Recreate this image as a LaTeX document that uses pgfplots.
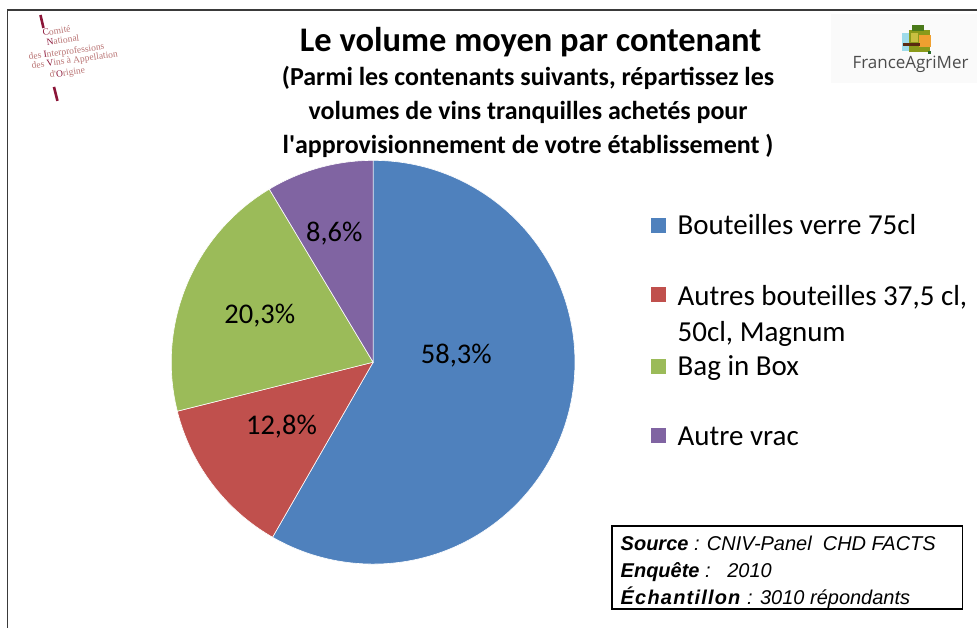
\documentclass[border=0pt]{standalone}
\usepackage{pgfplots}
\pgfplotsset{compat=1.18}
\usepackage{pgfplotstable}
\usepackage{fontspec}
\setmainfont{Carlito}
\newfontfamily\arialfont{Liberation Sans}
\newfontfamily\cnivfont{Liberation Serif}
\newfontfamily\fagfont{Open Sans}
\definecolor{pieblue}{HTML}{4F81BD}
\definecolor{piered}{HTML}{C0504D}
\definecolor{piegreen}{HTML}{9BBB59}
\definecolor{piepurple}{HTML}{8064A2}
\definecolor{framegray}{HTML}{3A3A3A}
\definecolor{cnivdark}{HTML}{8B1538}
\definecolor{cnivrose}{HTML}{B87272}
\definecolor{fagA}{HTML}{9EDBE9}
\definecolor{fagB}{HTML}{8A9A1A}
\definecolor{fagC}{HTML}{4A7A1A}
\definecolor{fagD}{HTML}{F0A030}
\definecolor{fagE}{HTML}{C8C040}
\definecolor{fagF}{HTML}{5A2A10}
\definecolor{fagG}{HTML}{2A6A2A}
\pgfkeys{/pgf/number format/.cd, use comma, fixed, fixed zerofill, precision=1, assume math mode=true}
\newcommand\labelfont{\fontsize{28.5}{34}\selectfont}
\newcommand\legfont{\fontsize{29}{34}\selectfont}

% value, colour, label position (axis units = pixels, y upward)
\pgfplotstableread{
value color lx ly
58.3 pieblue 456.7 264
12.8 piered 281.7 193
20.3 piegreen 260 304
8.6 piepurple 334.5 386.3
}\piedata

\begin{document}
\begin{tikzpicture}
\begin{axis}[
  scale only axis, width=978pt, height=628pt,
  xmin=0, xmax=978, ymin=0, ymax=628,
  hide axis, clip=false]
\path[draw=none] (axis cs:0,0) rectangle (axis cs:978,628);
% frame
\draw[line width=1.5pt, framegray] (axis cs:7.5,0) -- (axis cs:7.5,618) -- (axis cs:978,618);

% pie
\xdef\cumul{0}
\pgfplotsinvokeforeach{0,1,2,3}{%
  \pgfplotstablegetelem{#1}{value}\of\piedata \let\sliceval\pgfplotsretval
  \pgfplotstablegetelem{#1}{color}\of\piedata \let\slicecolor\pgfplotsretval
  \pgfplotstablegetelem{#1}{lx}\of\piedata \let\lblx\pgfplotsretval
  \pgfplotstablegetelem{#1}{ly}\of\piedata \let\lbly\pgfplotsretval
  \pgfmathsetmacro\startang{90-3.6*\cumul}
  \pgfmathsetmacro\endang{90-3.6*(\cumul+\sliceval)}
  \edef\temp{\noexpand\fill[fill=\slicecolor, draw=white, line width=0.6pt]
    (axis cs:373.4,265.5) -- ++(\startang:202pt)
    arc[start angle=\startang, end angle=\endang, radius=202pt] -- cycle;}
  \temp
  \edef\temp{\noexpand\node[anchor=base, font=\noexpand\labelfont, inner sep=0pt]
    at (axis cs:\lblx,\lbly) {\noexpand\pgfmathprintnumber{\sliceval}\noexpand\%};}
  \temp
  \pgfmathsetmacro\newcumul{\cumul+\sliceval}
  \xdef\cumul{\newcumul}
}

% titles
\node[anchor=base, inner sep=0pt, font=\fontsize{34.5}{40}\selectfont\bfseries] at (axis cs:531,576) {Le volume moyen par contenant};
\node[anchor=base, inner sep=0pt, font=\fontsize{26}{30}\selectfont\bfseries] at (axis cs:528.5,542) {(Parmi les contenants suivants, répartissez les};
\node[anchor=base, inner sep=0pt, font=\fontsize{26}{30}\selectfont\bfseries] at (axis cs:528.5,508) {volumes de vins tranquilles achetés pour};
\node[anchor=base, inner sep=0pt, font=\fontsize{26}{30}\selectfont\bfseries] at (axis cs:528.5,474) {l\textquotesingle approvisionnement de votre établissement )};

% legend
\fill[pieblue] (axis cs:651,410) rectangle (axis cs:667,395);
\fill[piered] (axis cs:651,341) rectangle (axis cs:667,326);
\fill[piegreen] (axis cs:651,269) rectangle (axis cs:667,254);
\fill[piepurple] (axis cs:651,200) rectangle (axis cs:667,185);
\node[anchor=base west, inner sep=0pt, font=\legfont] at (axis cs:678,393) {Bouteilles verre 75cl};
\node[anchor=base west, inner sep=0pt, font=\legfont] at (axis cs:678,322) {Autres bouteilles 37,5 cl,};
\node[anchor=base west, inner sep=0pt, font=\legfont] at (axis cs:678,286) {50cl, Magnum};
\node[anchor=base west, inner sep=0pt, font=\legfont] at (axis cs:678,252) {Bag in Box};
\node[anchor=base west, inner sep=0pt, font=\legfont] at (axis cs:678,182) {Autre vrac};

% source box
\draw[line width=1.3pt] (axis cs:612.5,101.5) rectangle (axis cs:963,18.5);
\node[anchor=base west, inner sep=0pt, font=\arialfont\fontsize{20}{24}\selectfont] at (axis cs:621,77.3) {\textbf{\textit{Source}}\textit{ : CNIV-Panel\ \ CHD FACTS}};
\node[anchor=base west, inner sep=0pt, font=\arialfont\fontsize{20}{24}\selectfont] at (axis cs:621,50.3) {\textbf{\textit{Enquête}}\textit{ :\ \ \ 2010}};
\node[anchor=base west, inner sep=0pt, font=\arialfont\fontsize{20}{24}\selectfont] at (axis cs:621,23.3) {\textbf{\textit{\addfontfeature{LetterSpace=6}Échantillon}}\textit{ : 3010 répondants}};

% FranceAgriMer logo
\fill[black!2] (axis cs:832,614) rectangle (axis cs:978,545);
\fill[fagA] (axis cs:903,595) rectangle (axis cs:912,577);
\fill[fagB] (axis cs:910,598) rectangle (axis cs:931,576);
\fill[fagC] (axis cs:913,603) rectangle (axis cs:925,597);
\fill[fagD] (axis cs:920,593) rectangle (axis cs:932,581);
\fill[fagE] (axis cs:912,595) rectangle (axis cs:919,586);
\fill[fagF] (axis cs:904,585) rectangle (axis cs:921,582);
\fill[fagG] (axis cs:929,577) rectangle (axis cs:932,574);
\node[anchor=base west, inner sep=0pt, font=\fagfont\fontsize{17}{20}\selectfont, text=black!70] at (axis cs:853,559.7) {FranceAgriMer};

% CNIV logo
\draw[line width=2.6pt, cnivdark] (axis cs:40.5,613) -- (axis cs:43.5,600);
\draw[line width=2.6pt, cnivdark] (axis cs:54,541) -- (axis cs:57.5,527);
\begin{scope}[every node/.style={anchor=base west, inner sep=0pt, rotate=8, text=cnivrose, font=\cnivfont\fontsize{9.5}{11}\selectfont}]
\node at (axis cs:43,592) {{\color{cnivdark}C}omité};
\node at (axis cs:47,582.5) {{\color{cnivdark}N}ational};
\node at (axis cs:29,568) {des {\color{cnivdark}I}nterprofessions};
\node at (axis cs:32,559) {des {\color{cnivdark}V}ins à Appellation};
\node at (axis cs:50,550) {d\textquotesingle{\color{cnivdark}O}rigine};
\end{scope}
\end{axis}
\end{tikzpicture}
\end{document}
